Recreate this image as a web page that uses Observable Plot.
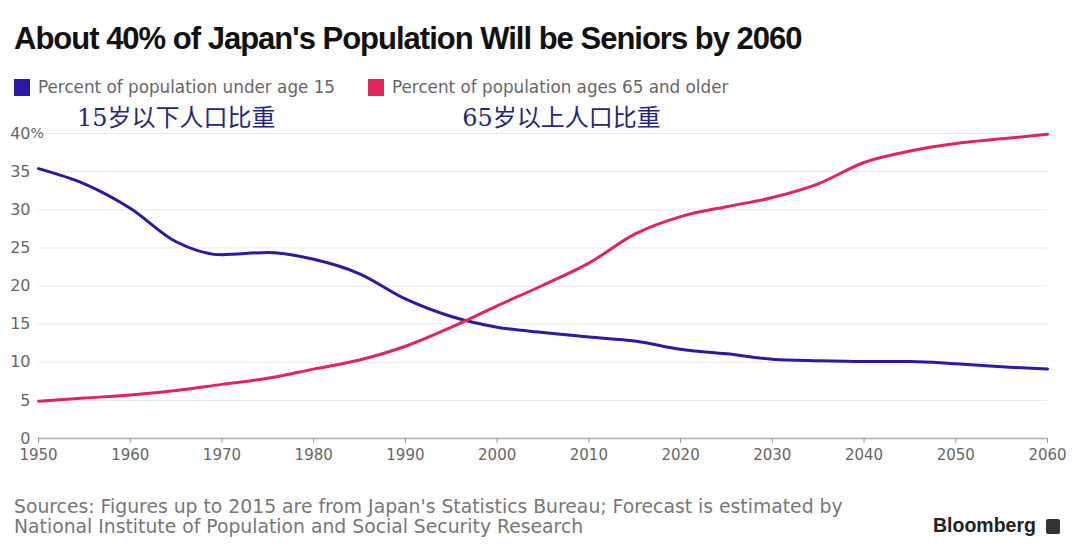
<!DOCTYPE html>
<html>
<head>
<meta charset="utf-8">
<script src="https://cdn.jsdelivr.net/npm/d3@7"></script>
<script src="https://cdn.jsdelivr.net/npm/@observablehq/plot@0.6"></script>
<style>
  body { margin: 0; background: #fff; width: 1080px; height: 550px; position: relative; overflow: hidden; font-family: "DejaVu Sans", sans-serif; }
  #title { position: absolute; left: 14px; top: 21px; font-family: "Liberation Sans", Arial, sans-serif; font-size: 31px; font-weight: bold; color: #111; letter-spacing: -1px; white-space: nowrap; }
  #legend { position: absolute; left: 14px; top: 77px; font-size: 16.8px; color: #666; white-space: nowrap; }
  .sw { display: inline-block; width: 16px; height: 17px; vertical-align: -3px; margin-right: 8px; }
  .item { position: absolute; top: 0; }
  #chart { position: absolute; left: 0; top: 100px; }
  #caption { position: absolute; left: 14px; top: 497px; font-size: 18.8px; color: #777; line-height: 20px; white-space: nowrap; }
  #brand { position: absolute; left: 933px; top: 514px; font-family: "Liberation Sans", Arial, sans-serif; font-size: 19.5px; font-weight: bold; color: #222; white-space: nowrap; }
  #logo { display: inline-block; width: 14px; height: 15px; background: #333; border-radius: 2px; vertical-align: -2px; margin-left: 10px; }
</style>
</head>
<body>
<div id="title"></div>
<div id="legend"></div>
<div id="chart"></div>
<div id="caption"></div>
<div id="brand">Bloomberg<span id="logo"></span></div>
<script>
const titleText = "About 40% of Japan's Population Will be Seniors by 2060";
const seriesNames = ["Percent of population under age 15", "Percent of population ages 65 and older"];
const seriesColors = ["#2b1aa8", "#e2245a"];
const years = [1950,1955,1960,1965,1970,1975,1980,1985,1990,1995,2000,2005,2010,2015,2020,2025,2030,2035,2040,2045,2050,2055,2060];
const under15 = [35.4,33.4,30.2,25.8,24.1,24.4,23.5,21.6,18.3,16.0,14.6,13.9,13.3,12.8,11.7,11.1,10.4,10.2,10.1,10.1,9.8,9.4,9.1];
const over65 = [4.9,5.3,5.7,6.3,7.1,7.9,9.1,10.3,12.1,14.6,17.4,20.1,23.0,26.8,29.1,30.4,31.6,33.4,36.2,37.7,38.7,39.3,39.9];
const annotations = [
  {year: 1954.2, value: 42, label: "15岁以下人口比重", series: 0},
  {year: 1996.2, value: 42, label: "65岁以上人口比重", series: 1}
];
const yTicks = [0,5,10,15,20,25,30,35,40];
const xTicks = [1950,1960,1970,1980,1990,2000,2010,2020,2030,2040,2050,2060];
const captionLines = [
  "Sources: Figures up to 2015 are from Japan's Statistics Bureau; Forecast is estimated by",
  "National Institute of Population and Social Security Research"
];

document.getElementById("title").textContent = titleText;
const legend = document.getElementById("legend");
const legendX = [0, 354];
seriesNames.forEach((n, i) => {
  const s = document.createElement("span");
  s.className = "item";
  s.style.left = legendX[i] + "px";
  s.innerHTML = `<span class="sw" style="background:${seriesColors[i]}"></span>`;
  s.appendChild(document.createTextNode(n));
  legend.appendChild(s);
});
document.getElementById("caption").innerHTML = captionLines.join("<br>");

const rows = [];
years.forEach((y, i) => {
  rows.push({year: y, value: under15[i], series: seriesNames[0]});
  rows.push({year: y, value: over65[i], series: seriesNames[1]});
});

const chart = Plot.plot({
  width: 1080,
  height: 375,
  marginTop: 33,
  marginBottom: 37,
  marginLeft: 38,
  marginRight: 33,
  style: {fontFamily: "DejaVu Sans, sans-serif", background: "transparent"},
  x: {domain: [1950, 2060]},
  y: {domain: [0, 40]},
  color: {domain: seriesNames, range: seriesColors},
  marks: [
    Plot.gridY(yTicks.filter(d => d > 0), {stroke: "#e8e8e8", strokeOpacity: 1}),
    Plot.ruleY([0], {stroke: "#aaa", strokeWidth: 1.5}),
    Plot.axisY(yTicks, {tickSize: 0, tickPadding: 8, fontSize: 16, fill: "#666", label: null}),
    Plot.text([40], {x: 1950, y: d => d, text: () => "%", frameAnchor: "left", dx: -8, textAnchor: "start", fontSize: 14, fill: "#666"}),
    Plot.axisX(xTicks, {tickSize: 5, tickPadding: 6, fontSize: 15, fill: "#666", stroke: "#999", tickFormat: d => String(d), label: null}),
    Plot.line(rows, {x: "year", y: "value", z: "series", stroke: "series", strokeWidth: 3, curve: "monotone-x"}),
    Plot.text(annotations, {x: "year", y: "value", text: "label", textAnchor: "start", fontSize: 24, fill: "#26267e", fontFamily: "DejaVu Serif, Noto Sans CJK SC", clip: false})
  ]
});
document.getElementById("chart").appendChild(chart);
</script>
</body>
</html>
